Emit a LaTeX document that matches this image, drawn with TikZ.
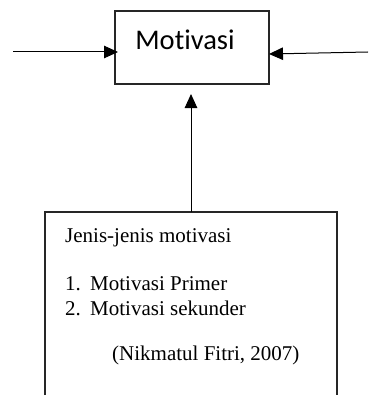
\documentclass[tikz,border=0pt]{standalone}
\usepackage{fontspec}
\setmainfont{Liberation Serif}
\newfontfamily\calfont[Ligatures={NoCommon,NoRare,NoContextual}]{Carlito}
\usetikzlibrary{arrows.meta}
\begin{document}
\begin{tikzpicture}[x=1pt,y=1pt,
  boxline/.style={draw=black!85, line width=1.4pt},
  arr/.style={draw=black, line width=1pt, -{Triangle[length=14pt,width=12.5pt]}},
  serif/.style={font=\fontsize{21}{25}\selectfont, inner sep=0pt, anchor=base west}]
\useasboundingbox (0,0) rectangle (368,-396);
% top box
\node[boxline, minimum width=154pt, minimum height=73pt, inner sep=0pt] (mot) at (192,-47.5) {};
\node[font=\calfont\fontsize{28.5}{32}\selectfont, inner sep=0pt, anchor=base] (motlbl) at (185,-50) {Motivasi};
% side arrows
\coordinate (lin) at (13,-52);
\coordinate (rin) at (368,-52);
\coordinate (lend) at (118,-52);
\coordinate (rend) at (269,-54);
\draw[arr] (lin) -- (lend);
\draw[arr] (rin) -- (rend);
% bottom box (open at the bottom)
\coordinate (bl) at (45,-395);
\coordinate (tl) at (45,-212);
\coordinate (tr) at (337,-212);
\coordinate (br) at (337,-395);
\draw[boxline] (bl) -- (tl) -- (tr) -- (br);
% vertical arrow
\coordinate (vstart) at (191,-212);
\coordinate (vend) at (191,-94);
\draw[arr] (vstart) -- (vend);
% texts
\node[serif] (t1) at (65,-242) {Jenis-jenis motivasi};
\node[serif] (n1) at (65,-290) {1.};
\node[serif] (t2) at (90,-290) {Motivasi Primer};
\node[serif] (n2) at (65,-315) {2.};
\node[serif] (t3) at (90,-315) {Motivasi sekunder};
\node[serif] (t4) at (112,-360) {(Nikmatul Fitri, 2007)};
\end{tikzpicture}
\end{document}
